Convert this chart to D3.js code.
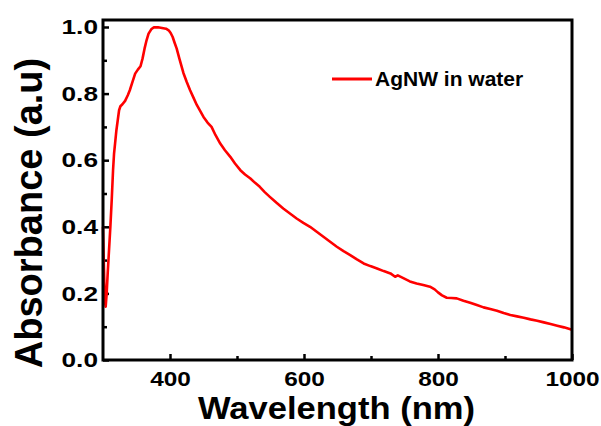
<!DOCTYPE html>
<html>
<head>
<meta charset="utf-8">
<script src="https://cdn.jsdelivr.net/npm/d3@7"></script>
<style>
  html, body { margin: 0; padding: 0; background: #ffffff; }
  svg { display: block; }
  text { font-family: "Liberation Sans", Arial, Helvetica, sans-serif; font-weight: bold; fill: #000; }
</style>
</head>
<body>
<svg id="chart" width="601" height="426"></svg>
<script>
// UV-Vis absorption spectrum of silver nanowires dispersed in water
const wavelength = [
  300, 301, 302, 303, 304, 305.5, 307, 309, 311, 313, 315, 316.5, 318, 320, 322, 324, 326, 329,
  333, 337, 340, 344, 348, 352, 356, 359, 362, 365, 368, 372, 376, 382, 388, 394, 398, 401,
  404, 407, 410, 414, 420, 425, 430, 435, 440, 445, 450, 456, 462, 468, 475, 482, 490, 497,
  505, 512, 520, 527, 534, 541, 549, 559, 569, 579, 589, 599, 609, 619, 629, 639, 649, 659,
  669, 679, 689, 699, 709, 719, 729, 736, 740, 746, 758, 768, 778, 788, 795, 800, 806, 813,
  820, 828, 838, 848, 858, 868, 878, 888, 898, 908, 918, 928, 938, 948, 958, 968, 978, 988, 1000
];
const absorbance = [
  0.40, 0.31, 0.23, 0.175, 0.16, 0.20, 0.26, 0.33, 0.40, 0.48, 0.57, 0.62, 0.65, 0.69, 0.72, 0.75, 0.762, 0.768,
  0.778, 0.795, 0.81, 0.835, 0.86, 0.872, 0.882, 0.905, 0.935, 0.96, 0.98, 0.993, 0.999, 0.999, 0.997, 0.995, 0.99, 0.982,
  0.97, 0.952, 0.935, 0.905, 0.862, 0.835, 0.81, 0.788, 0.766, 0.748, 0.73, 0.713, 0.70, 0.675, 0.65, 0.63, 0.61, 0.59,
  0.57, 0.557, 0.545, 0.532, 0.52, 0.505, 0.49, 0.472, 0.455, 0.44, 0.425, 0.412, 0.40, 0.385, 0.37, 0.355, 0.34, 0.327,
  0.315, 0.302, 0.29, 0.282, 0.275, 0.267, 0.26, 0.25, 0.254, 0.248, 0.236, 0.23, 0.225, 0.22, 0.212, 0.203, 0.194, 0.187,
  0.186, 0.185, 0.178, 0.172, 0.165, 0.158, 0.153, 0.148, 0.141, 0.135, 0.131, 0.127, 0.122, 0.118, 0.113, 0.108, 0.103, 0.098, 0.091
];
const xMajorTicks = [400, 600, 800, 1000];
const xMinorTicks = [500, 700, 900];
const yMajorTicks = [0, 0.2, 0.4, 0.6, 0.8, 1.0];
const yMinorTicks = [0.1, 0.3, 0.5, 0.7, 0.9];
const seriesName = "AgNW in water";
const xTitle = "Wavelength (nm)";
const yTitle = "Absorbance (a.u)";

const svg = d3.select("#chart");
const plotLeft = 103, plotRight = 572, plotTop = 20, plotBottom = 360;

const x = d3.scaleLinear().domain([300, 1000]).range([plotLeft, plotRight]);
const y = d3.scaleLinear().domain([0, 1.021]).range([plotBottom, plotTop]);

const tickStyle = g => {
  g.select(".domain").remove();
  g.selectAll(".tick line").attr("stroke", "#000").attr("stroke-width", 2.5);
};

// x axis: inward major and minor ticks
svg.append("g")
  .attr("transform", `translate(0,${plotBottom})`)
  .call(d3.axisBottom(x).tickValues(xMajorTicks).tickSize(-6).tickPadding(11.5).tickFormat(d3.format("d")))
  .call(tickStyle)
  .call(g => g.selectAll(".tick text")
    .attr("font-size", 20)
    .attr("transform", "scale(1.22,1)"));

svg.append("g")
  .attr("transform", `translate(0,${plotBottom})`)
  .call(d3.axisBottom(x).tickValues(xMinorTicks).tickSize(-4).tickFormat(""))
  .call(tickStyle);

// y axis
svg.append("g")
  .attr("transform", `translate(${plotLeft},0)`)
  .call(d3.axisLeft(y).tickValues(yMajorTicks).tickSize(-6).tickPadding(4).tickFormat(d3.format(".1f")))
  .call(tickStyle)
  .call(g => g.selectAll(".tick text")
    .attr("font-size", 21)
    .attr("transform", "scale(1.25,1)"));

svg.append("g")
  .attr("transform", `translate(${plotLeft},0)`)
  .call(d3.axisLeft(y).tickValues(yMinorTicks).tickSize(-4).tickFormat(""))
  .call(tickStyle);

// spectrum
const line = d3.line()
  .x((d, i) => x(wavelength[i]))
  .y(d => y(d));

svg.append("path")
  .datum(absorbance)
  .attr("fill", "none")
  .attr("stroke", "#ff0000")
  .attr("stroke-width", 2.6)
  .attr("stroke-linejoin", "round")
  .attr("d", line);

// frame
svg.append("rect")
  .attr("x", plotLeft).attr("y", plotTop)
  .attr("width", plotRight - plotLeft).attr("height", plotBottom - plotTop)
  .attr("fill", "none").attr("stroke", "#000").attr("stroke-width", 3);

// legend
svg.append("line")
  .attr("x1", 332).attr("x2", 372).attr("y1", 79).attr("y2", 79)
  .attr("stroke", "#ff0000").attr("stroke-width", 3);
svg.append("text")
  .attr("x", 375).attr("y", 85.5)
  .attr("font-size", 21)
  .text(seriesName);

// axis titles
svg.append("text")
  .attr("transform", `translate(${(plotLeft + plotRight) / 2 - 1},419) scale(1.08,1)`)
  .attr("text-anchor", "middle")
  .attr("font-size", 32)
  .text(xTitle);

svg.append("text")
  .attr("transform", "translate(42,213) rotate(-90)")
  .attr("text-anchor", "middle")
  .attr("font-size", 38)
  .text(yTitle);
</script>
</body>
</html>
